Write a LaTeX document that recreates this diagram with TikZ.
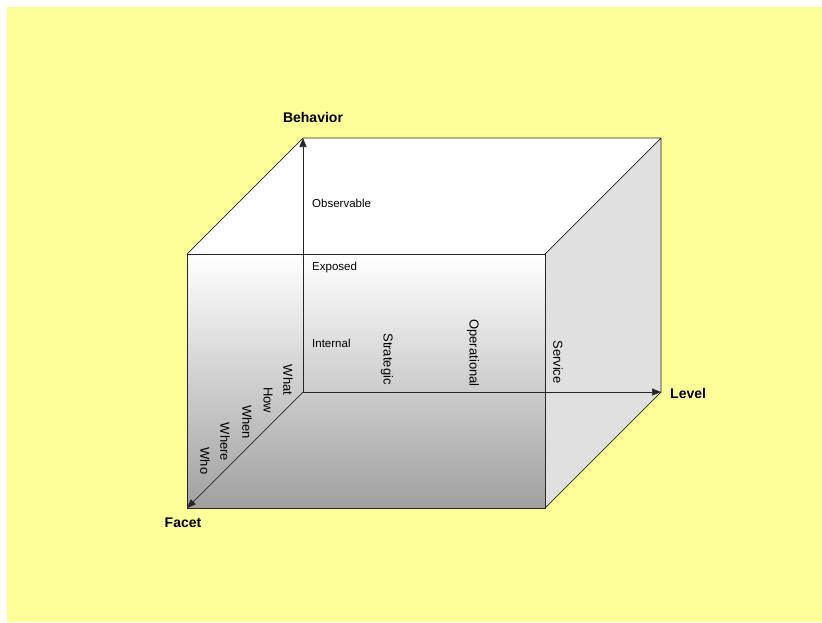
\documentclass[tikz,border=0pt]{standalone}
\usepackage{fontspec}
\setmainfont{Liberation Sans}
\usetikzlibrary{arrows.meta,positioning}
\definecolor{paper}{RGB}{255,255,153}
\definecolor{sideface}{RGB}{224,224,224}
\definecolor{frontmid}{RGB}{228,228,228}
\definecolor{frontlow}{RGB}{160,160,160}

\begin{document}
\begin{tikzpicture}[x=1pt,y=-1pt,>={Triangle[length=9pt,width=7pt]},
    edge/.style={draw=black!85,line width=0.7pt},
    axis/.style={->,black!85,line width=0.7pt},
    dim/.style={font=\bfseries\fontsize{14}{16}\selectfont,inner sep=0pt},
    tier/.style={font=\fontsize{11.5}{13}\selectfont,anchor=west,inner sep=0pt},
    tick/.style={font=\fontsize{13}{15}\selectfont,rotate=-90,inner sep=0pt}]
  \useasboundingbox (0,0) rectangle (822,622);
  \fill[paper] (7,7) rectangle (822,622);
  \coordinate (o) at (303,392);
  \coordinate (btl) at (303,138);
  \coordinate (btr) at (661,138);
  \coordinate (bbr) at (661,392);
  \coordinate (ftl) at (187,254);
  \coordinate (ftr) at (545,254);
  \coordinate (fbr) at (545,508);
  \coordinate (fbl) at (187,508);
  \fill[white] (ftl) -- (btl) -- (btr) -- (ftr) -- cycle;
  \fill[sideface] (ftr) -- (btr) -- (bbr) -- (fbr) -- cycle;
  \shade[top color=white,middle color=frontmid,bottom color=frontlow] (ftl) rectangle (fbr);
  \draw[axis] (o) -- (btl);
  \draw[axis] (o) -- (bbr);
  \draw[axis] (o) -- (fbl);
  \draw[edge] (ftl) rectangle (fbr);
  \draw[edge] (ftl) -- (btl) -- (btr) -- (bbr) -- (fbr) (btr) -- (ftr);
  \node[dim] (behavior) at (313,117) {Behavior};
  \node[dim,anchor=west] (level) at (670,393) {Level};
  \node[dim] (facet) at (183,523) {Facet};
  \node[tier] (observable) at (312,203) {Observable};
  \node[tier] (exposed) at (312,268) {Exposed};
  \node[tier] (internal) at (312,343) {Internal};
  \foreach \name/\x/\y in {Strategic/387/359,Operational/473/353,Service/558/362,
      What/288/380,How/268/400,When/247/422,Where/225/442,Who/205/461}
    \node[tick] (\name) at (\x,\y) {\name};
\end{tikzpicture}
\end{document}
